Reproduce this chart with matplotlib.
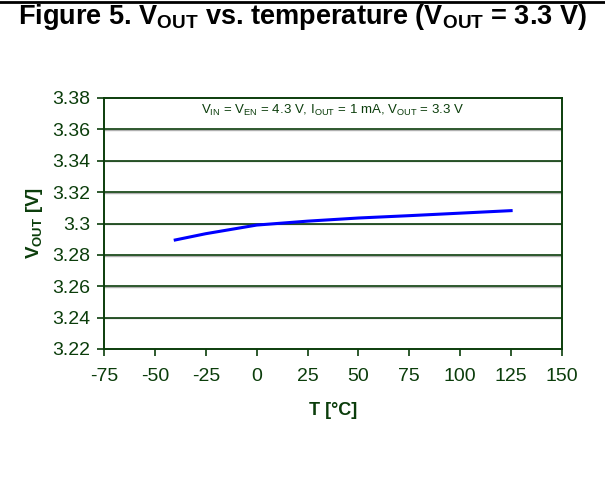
import matplotlib
matplotlib.use("Agg")
import matplotlib.pyplot as plt

# Data
temp = [-40, -25, 0, 25, 50, 75, 100, 125]
vout = [3.2895, 3.2935, 3.2990, 3.3015, 3.3035, 3.3050, 3.3066, 3.3082]

xticks = [-75, -50, -25, 0, 25, 50, 75, 100, 125, 150]
yticks = [3.22, 3.24, 3.26, 3.28, 3.30, 3.32, 3.34, 3.36, 3.38]
ytick_labels = ["3.22", "3.24", "3.26", "3.28", "3.3", "3.32", "3.34", "3.36", "3.38"]

green = "#0b3d0b"
plt.rcParams['font.family'] = ['Liberation Sans', 'DejaVu Sans']
plt.rcParams['axes.unicode_minus'] = False
plt.rcParams['mathtext.fontset'] = 'custom'
plt.rcParams['mathtext.rm'] = 'Liberation Sans'
plt.rcParams['mathtext.bf'] = 'Liberation Sans:bold'
plt.rcParams['mathtext.it'] = 'Liberation Sans:italic'

fig = plt.figure(figsize=(6.05, 4.79), dpi=100)
ax = fig.add_axes([104 / 605, 1 - 349 / 479, (562 - 104) / 605, (349 - 98) / 479])

# gridlines with light shadow
for y in yticks[1:-1]:
    ax.axhline(y - 0.0004, color="#b0b0b0", lw=1.0, zorder=1)
    ax.axhline(y, color=green, lw=1.2, zorder=2)

ax.plot(temp, vout, color="#0000ff", lw=2.2, zorder=3)

ax.set_xlim(-75, 150)
ax.set_ylim(3.22, 3.38)
ax.set_xticks(xticks)
ax.set_yticks(yticks)
ax.set_yticklabels(ytick_labels)
ax.tick_params(axis="both", colors=green, labelsize=14, length=5, width=1.2, direction="out")
ax.tick_params(axis="x", pad=9)
ax.tick_params(axis="y", pad=5)
for s in ax.spines.values():
    s.set_color(green)
    s.set_linewidth(1.4)

ax.set_xlabel("T [°C]", color=green, fontsize=13, fontweight="bold", labelpad=12)
ax.set_ylabel(r"V$_{\mathbf{OUT}}$ [V]", color=green, fontsize=13.5, fontweight="bold", labelpad=5)

ax.text(0.5, 0.95,
        r"V$_{\mathrm{IN}}$ = V$_{\mathrm{EN}}$ = 4.3 V, I$_{\mathrm{OUT}}$ = 1 mA, V$_{\mathrm{OUT}}$ = 3.3 V",
        transform=ax.transAxes, ha="center", va="center", fontsize=9.5, color=green)

fig.text(0.5, 1 - 17 / 479,
         r"Figure 5. V$_{\mathbf{OUT}}$ vs. temperature (V$_{\mathbf{OUT}}$ = 3.3 V)",
         ha="center", va="center", fontsize=19.5, fontweight="bold", color="black")
fig.add_artist(plt.Line2D([0, 1], [1 - 2 / 479, 1 - 2 / 479], color="black", lw=2))

fig.savefig("out.png", dpi=100)
